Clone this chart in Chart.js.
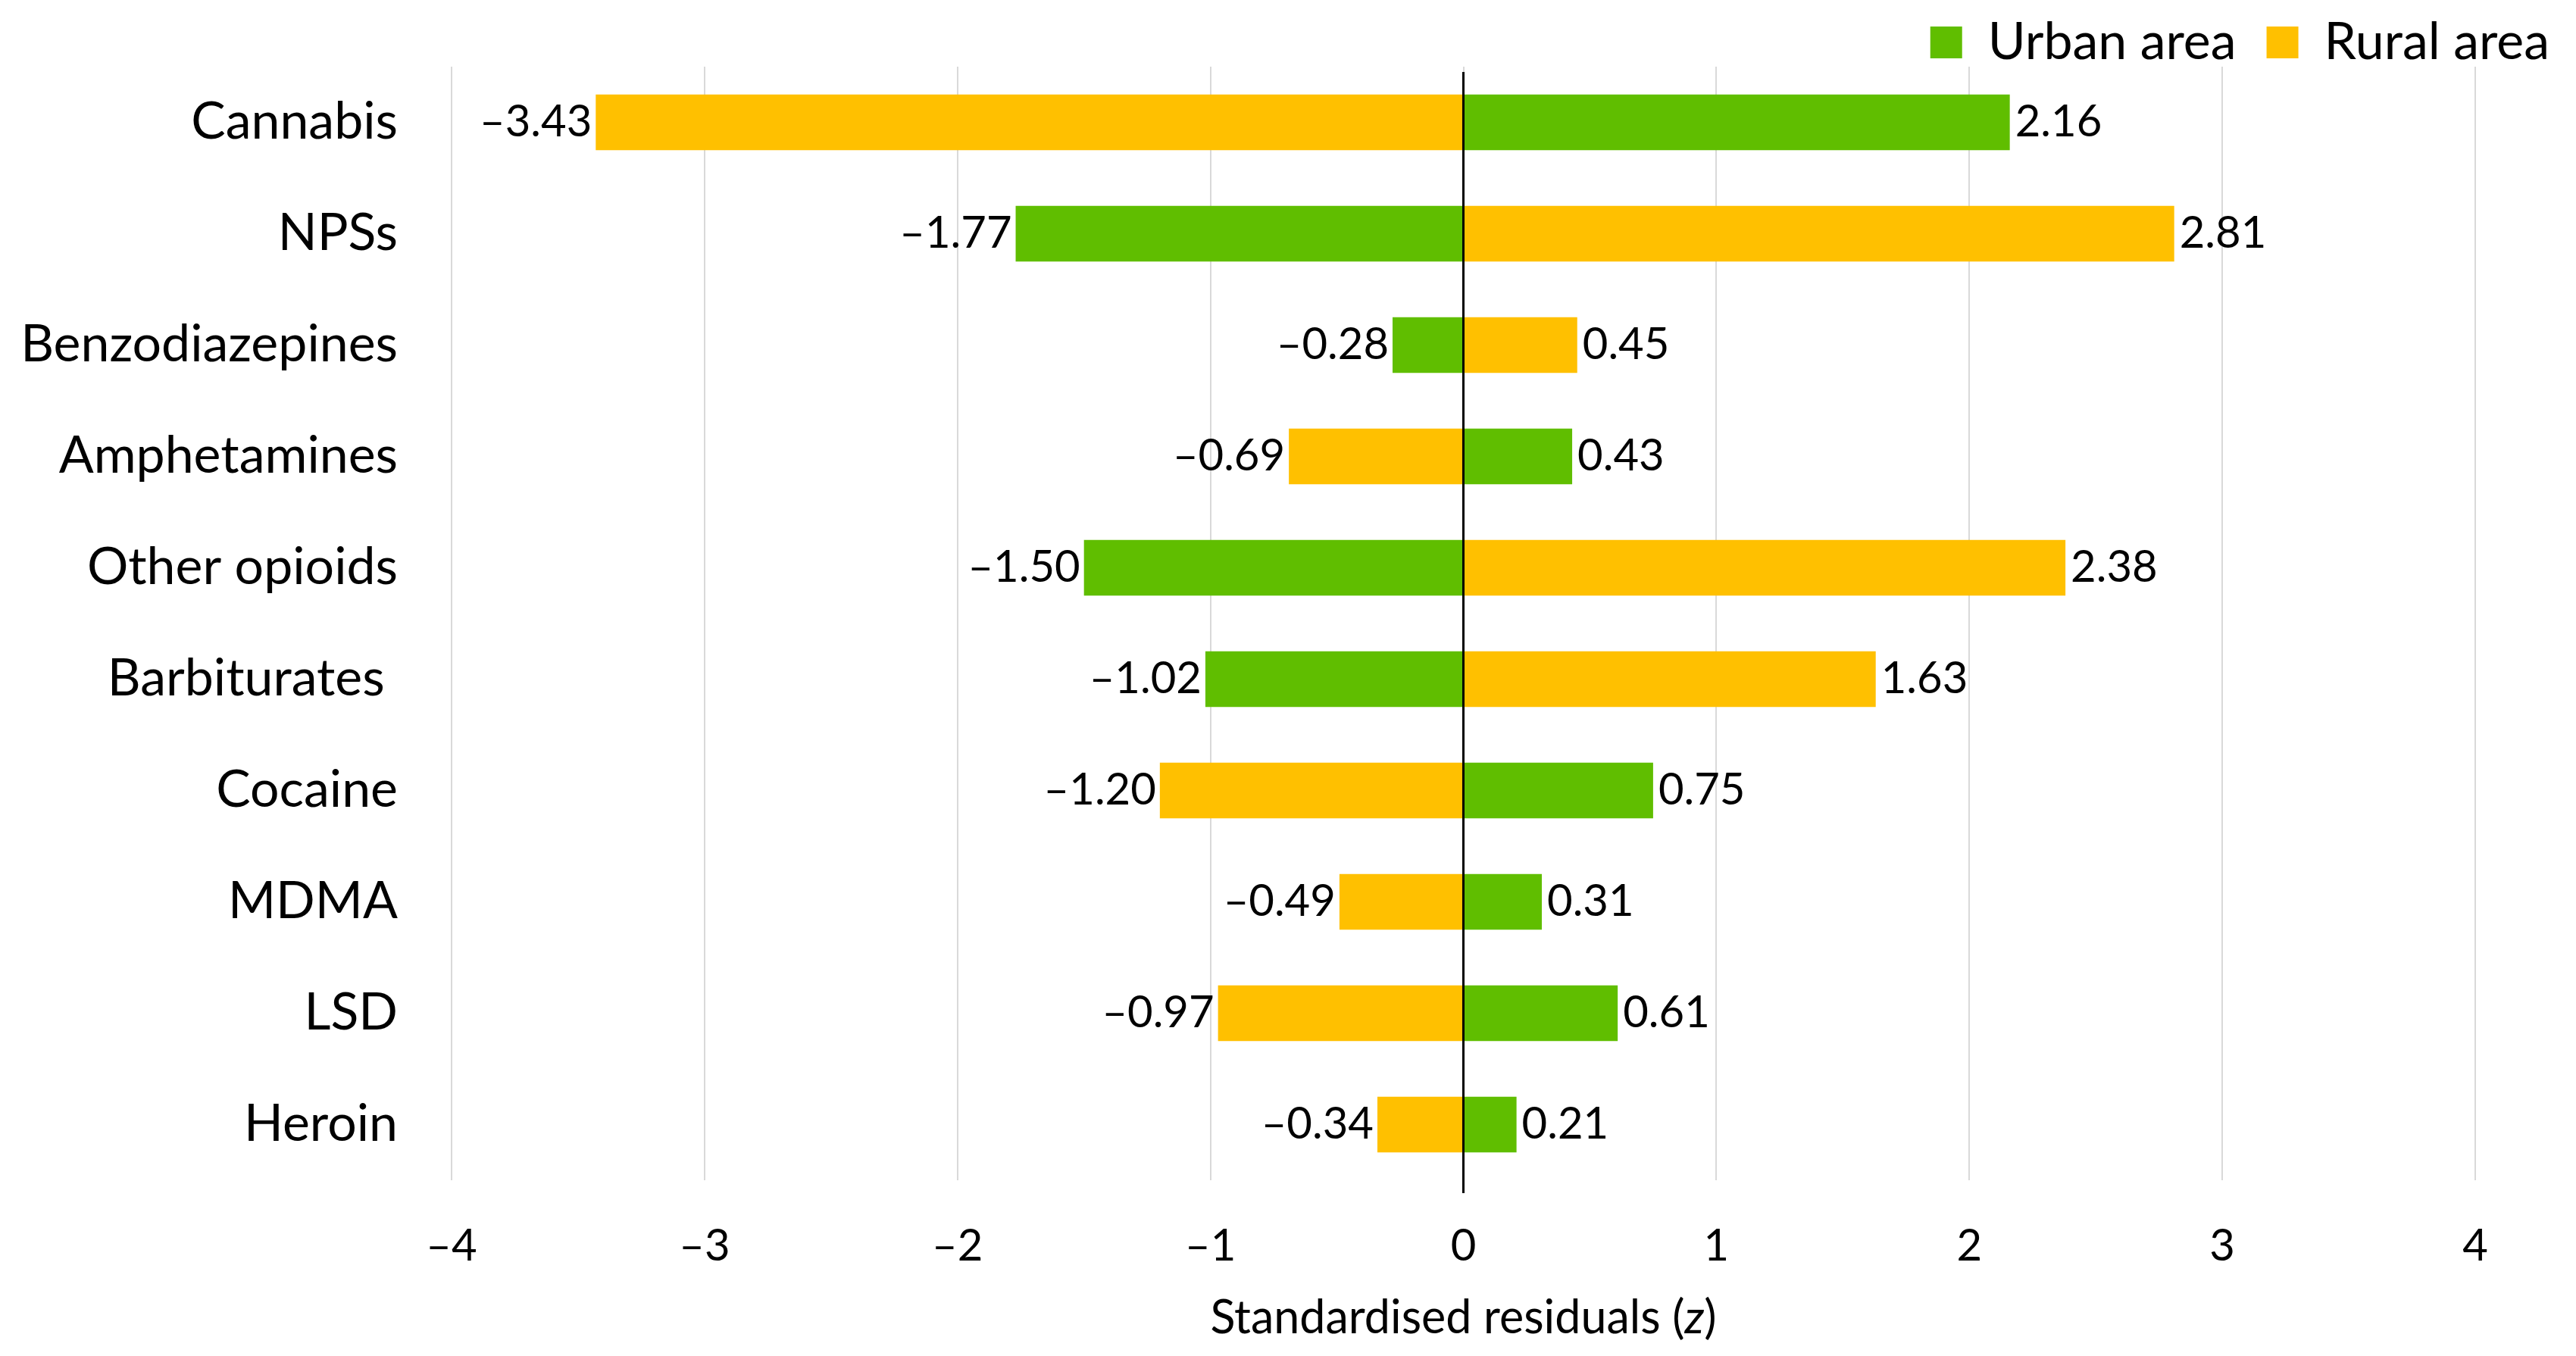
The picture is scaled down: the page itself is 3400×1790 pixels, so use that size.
<!DOCTYPE html>
<html>
<head>
<meta charset="utf-8">
<script src="https://cdn.jsdelivr.net/npm/chart.js@4.4.0/dist/chart.umd.min.js"></script>
<style>
	body { margin: 0; background: #ffffff; }
	canvas { display: block; }
</style>
</head>
<body>
<canvas id="cntx_residuals" width="3400" height="1790"></canvas>
<script>
const drug_names = ["Cannabis", "NPSs", "Benzodiazepines", "Amphetamines", "Other opioids", "Barbiturates ", "Cocaine", "MDMA", "LSD", "Heroin"];
const urban_values = [2.16, -1.77, -0.28, 0.43, -1.50, -1.02, 0.75, 0.31, 0.61, 0.21];
const rural_values = [-3.43, 2.81, 0.45, -0.69, 2.38, 1.63, -1.20, -0.49, -0.97, -0.34];
const x_ticks = [-4, -3, -2, -1, 0, 1, 2, 3, 4];
const series_names = ["Urban area", "Rural area"];

const FONT = "Lato";

// excel style minus sign
fmt = (v, digits) => {
	let s = digits === undefined ? String(v) : v.toFixed(digits);
	return s.replace("-", "\u2013");
};

// legend sits a bit closer to the plot than chart.js leaves it
const legendNudge = {
	id: "legendNudge",
	afterLayout(chart) {
		chart.legend.top += 12;
		chart.legend.bottom += 12;
	},
};

const barLabels = {
	id: "barLabels",
	afterDatasetsDraw(chart) {
		const ctx = chart.ctx;
		const xScale = chart.scales.x;
		const area = chart.chartArea;
		ctx.save();

		// axis line at zero, on top of the bars
		const x0 = xScale.getPixelForValue(0);
		ctx.strokeStyle = "#000000";
		ctx.lineWidth = 3;
		ctx.beginPath();
		ctx.moveTo(x0, area.top + 7);
		ctx.lineTo(x0, area.bottom + 17);
		ctx.stroke();

		ctx.font = "58px " + FONT;
		ctx.fillStyle = "#000000";
		ctx.textBaseline = "middle";
		chart.data.datasets.forEach((ds, i) => {
			chart.getDatasetMeta(i).data.forEach((bar, j) => {
				const v = ds.data[j];
				const neg = v < 0;
				ctx.textAlign = neg ? "right" : "left";
				ctx.fillText(fmt(v, 2), bar.x + (neg ? -5 : 7), bar.y);
			});
		});

		// x title with italic z
		const parts = [["Standardised residuals (", ""], ["z", "italic "], [")", ""]];
		let total = 0;
		parts.forEach((p) => {
			ctx.font = p[1] + "61px " + FONT;
			total += ctx.measureText(p[0]).width;
		});
		let tx = (area.left + area.right) / 2 - total / 2;
		const ty = xScale.bottom - 50;
		ctx.textAlign = "left";
		parts.forEach((p) => {
			ctx.font = p[1] + "61px " + FONT;
			ctx.fillText(p[0], tx, ty);
			tx += ctx.measureText(p[0]).width;
		});
		ctx.restore();
	},
};

drawChart = (canvas) => {
	const myChart = new Chart(canvas, {
		type: "bar",
		data: {
			labels: drug_names,
			datasets: [
				{
					label: series_names[0],
					data: urban_values,
					backgroundColor: "#60BE00",
					categoryPercentage: 1,
					barPercentage: 0.5,
				},
				{
					label: series_names[1],
					data: rural_values,
					backgroundColor: "#FFC000",
					categoryPercentage: 1,
					barPercentage: 0.5,
				},
			],
		},
		options: {
			indexAxis: "y",
			responsive: false,
			animation: false,
			devicePixelRatio: 1,
			layout: {
				padding: { top: -30, left: 0, right: -5, bottom: 0 },
			},
			scales: {
				x: {
					stacked: true,
					min: -4,
					max: 4,
					afterBuildTicks: (scale) => {
						scale.ticks = x_ticks.map((v) => ({ value: v }));
					},
					afterFit: (scale) => {
						scale.height = 232;
					},
					border: { display: false },
					grid: {
						color: "#d9d9d9",
						lineWidth: 2,
						drawTicks: false,
					},
					ticks: {
						padding: 52,
						maxRotation: 0,
						color: "#000000",
						font: { family: FONT, size: 58 },
						callback: (v) => fmt(v),
					},
				},
				y: {
					stacked: true,
					afterFit: (scale) => {
						scale.width = 596;
					},
					border: { display: false },
					// invisible tick marks give the gap between labels and plot
					// (ticks.padding would also push the plot top down)
					grid: {
						display: true,
						drawOnChartArea: false,
						drawTicks: true,
						tickLength: 71,
						tickColor: "rgba(0,0,0,0)",
					},
					ticks: {
						padding: 0,
						autoSkip: false,
						color: "#000000",
						font: { family: FONT, size: 68 },
					},
				},
				// empty right axis only keeps room beside the plot for the legend
				y2: {
					type: "linear",
					position: "right",
					afterFit: (scale) => {
						scale.width = 138;
					},
					border: { display: false },
					grid: { display: false },
					ticks: { display: false },
				},
			},
			plugins: {
				legend: {
					position: "top",
					align: "end",
					labels: {
						boxWidth: 42,
						boxHeight: 42,
						padding: 40,
						color: "#000000",
						font: { family: FONT, size: 68 },
					},
				},
				tooltip: { enabled: false },
			},
		},
		plugins: [legendNudge, barLabels],
	});
};

document.fonts.load("58px " + FONT).then(() => {
	drawChart(document.querySelector("#cntx_residuals"));
});
</script>
</body>
</html>
